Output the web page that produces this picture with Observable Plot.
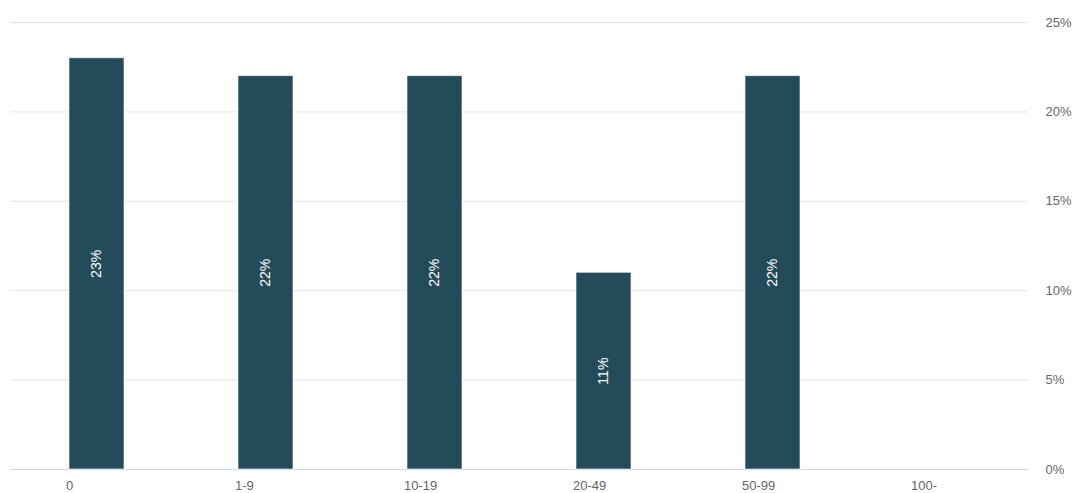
<!DOCTYPE html>
<html>
<head>
<meta charset="utf-8">
<script src="https://cdn.jsdelivr.net/npm/d3@7"></script>
<script src="https://cdn.jsdelivr.net/npm/@observablehq/plot@0.6"></script>
<style>
  html, body { margin: 0; padding: 0; background: #fff; }
  #chart svg { display: block; }
</style>
</head>
<body>
<div id="chart"></div>
<script>
const categories = ["0", "1-9", "10-19", "20-49", "50-99", "100-"];
const values = [23, 22, 22, 11, 22, 0];
const yTicks = [0, 5, 10, 15, 20, 25];

const data = categories.map((c, i) => ({category: c, value: values[i]}));

const chart = Plot.plot({
  width: 1077,
  height: 493,
  marginLeft: 10,
  marginRight: 49,
  marginTop: 22,
  marginBottom: 24,
  style: {fontFamily: "'Liberation Sans', Arial, sans-serif", fontSize: "13px", color: "#666666", background: "#ffffff"},
  x: {type: "band", domain: categories, paddingInner: 0.674, paddingOuter: 0.335, align: 0.5},
  y: {domain: [0, 25]},
  marks: [
    Plot.ruleY(yTicks.filter(t => t > 0), {stroke: "#e6e6e6", strokeWidth: 1}),
    Plot.ruleY([0], {stroke: "#ccd6eb", strokeWidth: 1.2}),
    Plot.barY(data.filter(d => d.value > 0), {x: "category", y: "value", fill: "#234b5a", stroke: "#ffffff", strokeWidth: 1, strokeOpacity: 0.6}),
    Plot.text(data.filter(d => d.value > 0), {
      x: "category",
      y: d => d.value / 2,
      text: d => d.value + "%",
      rotate: -90,
      fill: "#ffffff",
      fontSize: 14
    }),
    Plot.axisY({anchor: "right", ticks: yTicks, tickSize: 0, tickPadding: 17, tickFormat: d => d + "%", fill: "#666666", fontSize: 13, label: null}),
    Plot.axisX({anchor: "bottom", tickSize: 0, tickPadding: 11, textAnchor: "start", dx: -31, fill: "#666666", fontSize: 13, label: null})
  ]
});
document.getElementById("chart").appendChild(chart);
</script>
</body>
</html>
